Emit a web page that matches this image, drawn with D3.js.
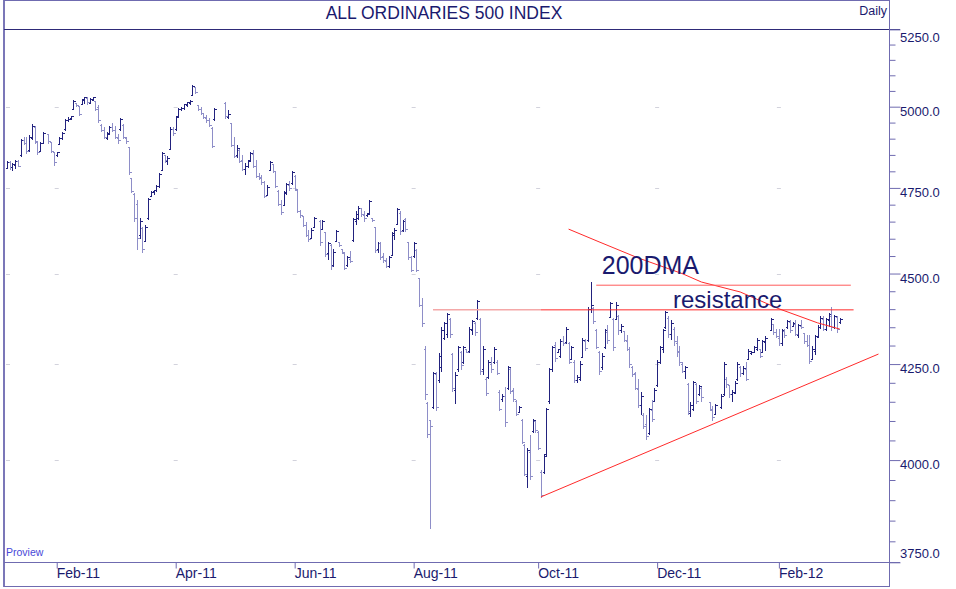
<!DOCTYPE html>
<html>
<head>
<meta charset="utf-8">
<script src="https://cdnjs.cloudflare.com/ajax/libs/d3/7.8.5/d3.min.js"></script>
<style>
  body { margin: 0; background: #fff; }
  svg { display: block; font-family: Arial, "Liberation Sans", sans-serif; }
</style>
</head>
<body>
<svg id="chart" width="956" height="589"></svg>
<script>
// calendar: bars sit on weekday slots, exchange holidays leave a gap
const firstDay = "2011-01-06";
const lastDay = "2012-04-06";
const holidays = ["2011-01-26", "2011-04-22", "2011-04-25", "2011-04-26", "2011-06-13",
                  "2011-12-26", "2011-12-27", "2012-01-02", "2012-01-26"];

// daily OHLC, one line per month (Jan-11 ... Feb/Mar-12)
const highs = [
  4832,4830,4826,4835,4834,4900,4906,4904,4912,4945,4940,4892,4890,4920,4916,4890,4860,
  4860,4905,4920,4960,4966,4972,5020,5012,5000,5025,5030,5030,5026,5032,5018,5005,4945,4935,4920,4940,
  4950,4940,4915,4965,4945,4905,4875,4780,4735,4715,4660,4635,4640,4720,4740,4745,4760,4795,4860,4850,4848,4935,4935,
  4970,4995,5000,5010,5015,5020,5070,5062,5005,5000,4980,4975,4965,4935,4995,5015,4990,4950,
  4905,4880,4868,4850,4825,4835,4860,4865,4835,4795,4790,4770,4760,4830,4822,4800,4745,4715,4740,4765,4770,4800,
  4790,4745,4685,4665,4650,4625,4630,4665,4655,4655,4620,4590,4585,4570,4625,4590,4570,4560,4550,4565,4660,
  4680,4695,4690,4680,4675,4715,4660,4635,4590,4590,4560,4545,4550,4620,4630,4690,4680,4655,4660,4590,4550,
  4590,4570,4487,4430,4300,4150,4100,4230,4230,4280,4350,4365,4390,4375,4280,4230,4300,4285,4300,4290,4350,4370,4365,
  4425,4375,4300,4215,4260,4270,4295,4260,4180,4170,4190,4245,4240,4185,4155,4140,4105,4040,4030,4065,4105,4100,
  4075,3975,4015,4135,4240,4300,4310,4290,4318,4325,4350,4310,4300,4260,4220,4258,4320,4318,4405,4475,4405,
  4345,4285,4280,4345,4355,4420,4375,4420,4385,4360,4340,4330,4295,4245,4230,4210,4175,4120,4115,4135,4155,4185,
  4260,4300,4345,4395,4380,4370,4350,4325,4300,4255,4245,4200,4150,4205,4200,4195,4190,4150,4140,4145,
  4170,4255,4215,4195,4180,4205,4255,4245,4245,4255,4290,4285,4300,4320,4290,4315,4325,4375,4360,4345,
  4345,4345,4345,4370,4370,4365,4370,4360,4370,4335,4330,4330,4300,4330,4355,4380,4380,4375,4390,4405,4385,4380,4375
];
const lows = [
  4806,4805,4800,4808,4812,4845,4880,4852,4860,4895,4882,4850,4860,4885,4882,4855,4815,
  4845,4880,4895,4925,4952,4958,4990,4998,4970,5005,5010,5005,5008,5018,4985,4950,4920,4900,4895,4910,
  4920,4900,4885,4925,4900,4885,4790,4735,4650,4568,4600,4560,4590,4655,4722,4730,4738,4750,4800,4825,4820,4865,4908,
  4925,4965,4985,4990,5000,5005,5035,5040,4985,4975,4960,4950,4935,4870,4955,4960,4960,4875,
  4840,4840,4825,4800,4790,4810,4830,4810,4780,4775,4760,4720,4725,4800,4795,4750,4695,4670,4695,4730,4740,4760,
  4740,4675,4662,4635,4605,4590,4600,4630,4580,4625,4548,4540,4510,4520,4590,4575,4555,4510,4520,4530,4590,
  4640,4655,4665,4650,4665,4670,4650,4560,4560,4540,4530,4515,4515,4550,4595,4640,4610,4620,4620,4540,4505,
  4545,4505,4405,4350,4155,4055,3830,4130,4125,4200,4230,4315,4320,4320,4175,4145,4230,4235,4250,4280,4280,4330,4325,
  4370,4220,4220,4165,4210,4225,4250,4220,4125,4150,4085,4180,4170,4150,4112,4120,4040,3960,3930,3950,4070,4070,
  4025,3905,3965,4010,4145,4230,4255,4280,4265,4300,4305,4250,4260,4200,4200,4205,4265,4285,4310,4390,4360,
  4290,4220,4235,4290,4305,4375,4285,4370,4330,4335,4310,4285,4240,4215,4180,4135,4115,4080,4050,4065,4098,4150,
  4190,4250,4280,4345,4320,4315,4300,4270,4245,4225,4210,4115,4110,4125,4145,4165,4150,4125,4100,4115,
  4130,4165,4185,4160,4150,4170,4205,4215,4220,4205,4260,4275,4280,4285,4265,4280,4285,4340,4330,4320,
  4300,4300,4320,4345,4335,4350,4325,4320,4345,4305,4295,4250,4260,4275,4320,4345,4340,4340,4350,4340,4345,4335,4360
];
const opens = [
  4810,4826,4812,4818,4830,4848,4895,4886,4864,4902,4936,4888,4862,4886,4912,4888,4858,
  4848,4882,4900,4928,4956,4962,4992,5010,5000,5008,5018,5026,5010,5020,5016,4998,4942,4925,4900,4912,
  4935,4925,4902,4928,4942,4902,4872,4778,4730,4700,4610,4630,4592,4660,4725,4738,4742,4755,4802,4848,4830,4868,4930,
  4928,4968,4990,4995,5004,5010,5036,5060,5004,4990,4978,4962,4955,4932,4960,5010,4965,4948,
  4880,4848,4865,4832,4805,4815,4832,4852,4815,4785,4778,4765,4728,4802,4820,4798,4740,4700,4698,4732,4758,4762,
  4785,4742,4680,4664,4640,4610,4602,4632,4650,4628,4618,4556,4580,4522,4592,4588,4568,4556,4522,4540,4595,
  4650,4660,4688,4668,4668,4675,4658,4632,4568,4585,4548,4535,4520,4552,4610,4642,4675,4624,4655,4588,4545,
  4548,4565,4485,4410,4290,4145,4100,4135,4222,4205,4240,4320,4330,4372,4275,4180,4235,4280,4255,4288,4285,4340,4360,
  4375,4370,4235,4210,4215,4250,4255,4255,4175,4155,4165,4185,4235,4180,4150,4122,4100,4038,3960,4020,4072,4098,
  4070,3970,3968,4015,4150,4235,4300,4282,4270,4310,4308,4305,4262,4255,4205,4210,4268,4312,4315,4400,4402,
  4340,4280,4240,4295,4335,4378,4370,4372,4380,4340,4338,4312,4288,4240,4225,4182,4140,4115,4090,4068,4128,4152,
  4192,4255,4290,4350,4375,4330,4345,4305,4285,4250,4230,4195,4120,4130,4195,4168,4185,4148,4128,4118,
  4135,4168,4210,4192,4168,4172,4208,4242,4225,4235,4262,4278,4282,4290,4288,4282,4308,4342,4358,4335,
  4320,4305,4338,4348,4362,4352,4358,4328,4352,4332,4310,4300,4262,4285,4322,4350,4372,4345,4368,4380,4350,4378,4362
];
const closes = [
  4828,4812,4820,4830,4816,4895,4886,4860,4905,4938,4890,4858,4884,4915,4890,4862,4828,
  4856,4902,4916,4955,4960,4968,5016,5004,4975,5022,5028,5012,5022,5028,4990,4955,4926,4905,4915,4935,
  4925,4905,4895,4960,4905,4890,4795,4740,4660,4600,4650,4570,4632,4715,4735,4742,4755,4790,4855,4832,4840,4930,4915,
  4965,4990,4995,5006,5012,5016,5065,5045,4990,4980,4965,4955,4940,4875,4992,4968,4975,4880,
  4845,4870,4830,4805,4815,4830,4855,4815,4785,4780,4765,4725,4752,4828,4800,4755,4700,4676,4735,4760,4748,4795,
  4745,4680,4668,4640,4610,4598,4625,4660,4590,4650,4555,4585,4520,4560,4620,4580,4560,4515,4545,4535,4655,
  4672,4690,4670,4660,4672,4710,4652,4565,4585,4545,4538,4520,4545,4615,4625,4685,4620,4650,4628,4545,4510,
  4585,4510,4410,4360,4170,4065,4085,4225,4135,4270,4340,4360,4385,4330,4185,4220,4295,4245,4295,4282,4345,4365,4335,
  4420,4230,4290,4172,4255,4235,4290,4225,4130,4165,4095,4240,4178,4155,4118,4135,4045,3965,4025,3960,4100,4075,
  4030,3912,4010,4130,4235,4295,4265,4288,4312,4305,4345,4255,4295,4205,4215,4250,4315,4292,4398,4410,4365,
  4295,4230,4270,4340,4315,4415,4295,4410,4340,4352,4315,4290,4248,4222,4185,4140,4165,4085,4060,4130,4105,4180,
  4255,4295,4340,4390,4330,4360,4310,4280,4255,4230,4240,4125,4140,4200,4150,4190,4160,4130,4108,4140,
  4165,4250,4195,4170,4175,4198,4250,4225,4238,4210,4285,4282,4295,4315,4270,4310,4320,4370,4335,4325,
  4305,4340,4328,4365,4340,4360,4330,4355,4348,4310,4300,4258,4290,4325,4350,4375,4345,4370,4385,4348,4380,4345,4370
];

// axes
const priceTicks = [3750, 4000, 4250, 4500, 4750, 5000, 5250];
const monthTicks = ["2011-02-01", "2011-04-01", "2011-06-01", "2011-08-01", "2011-10-03", "2011-12-01", "2012-02-01"];
const monthLabels = ["Feb-11", "Apr-11", "Jun-11", "Aug-11", "Oct-11", "Dec-11", "Feb-12"];

// drawn-in lines
const dmaDates = ["2011-10-18", "2011-11-02", "2011-11-22", "2011-12-14", "2011-12-23", "2012-01-12", "2012-02-01", "2012-02-21", "2012-03-02"];
const dmaValues = [4628, 4591, 4545, 4500, 4476, 4448, 4401, 4362, 4345];
const supportDates = ["2011-10-04", "2012-03-22"];
const supportValues = [3908, 4277];
const resistLevel = 4398;
const dmaLevel = 4467;

const svg = d3.select("#chart");
const parse = d3.timeParse("%Y-%m-%d");
const fmt = d3.timeFormat("%Y-%m-%d");

const weekdays = d3.timeDay.range(parse(firstDay), parse(lastDay))
  .filter(d => d.getDay() !== 0 && d.getDay() !== 6);
const slot = new Map(weekdays.map((d, i) => [fmt(d), i]));
const tradingDays = weekdays.filter(d => !holidays.includes(fmt(d))).slice(0, closes.length);

const x = d3.scaleLinear().domain([-1.05, 318.8]).range([4, 889]);
const xd = s => x(slot.get(s));
const y = d3.scaleLog().domain([3750, 5250]).range([562.3, 29.4]);

const frame = "#6f6bb0";
const ink = "#1a1a6e";

// faint grid marks at the label crossings
const gridX = [8].concat(monthTicks.map(xd));
priceTicks.slice(1, -1).forEach(v => {
  gridX.forEach(gx => {
    svg.append("line")
      .attr("x1", gx - 2).attr("x2", gx + 2)
      .attr("y1", Math.round(y(v)) + 0.5).attr("y2", Math.round(y(v)) + 0.5)
      .attr("stroke", "#d2d2dc");
  });
});

// frame
svg.append("line").attr("x1", 4).attr("x2", 4).attr("y1", 0).attr("y2", 587)
  .attr("stroke", "#7b77b8").attr("stroke-width", 2);
svg.append("line").attr("x1", 4).attr("x2", 889).attr("y1", 0.5).attr("y2", 0.5).attr("stroke", frame);
svg.append("line").attr("x1", 4).attr("x2", 900).attr("y1", 29.5).attr("y2", 29.5).attr("stroke", "#2e2a78");
svg.append("line").attr("x1", 889.5).attr("x2", 889.5).attr("y1", 0).attr("y2", 587).attr("stroke", frame);
svg.append("line").attr("x1", 4).attr("x2", 900).attr("y1", 562.5).attr("y2", 562.5).attr("stroke", frame);
svg.append("line").attr("x1", 4).attr("x2", 889).attr("y1", 586.5).attr("y2", 586.5).attr("stroke", frame);

// y axis: minor ticks every 50, major every 250
const minorTicks = d3.range(3800, 5250, 50).filter(v => v % 250 !== 0);
svg.append("g")
  .attr("transform", "translate(889.5,0)")
  .call(d3.axisRight(y).tickValues(minorTicks).tickSize(6).tickFormat(""))
  .call(g => g.select(".domain").remove())
  .call(g => g.selectAll("line").attr("stroke", frame));
svg.append("g")
  .attr("transform", "translate(889.5,0)")
  .call(d3.axisRight(y).tickValues(priceTicks).tickSize(11).tickFormat(""))
  .call(g => g.select(".domain").remove())
  .call(g => g.selectAll("line").attr("stroke", frame));

svg.selectAll(".ylab")
  .data(priceTicks)
  .enter()
  .append("text")
  .attr("class", "ylab")
  .attr("x", 900)
  .attr("y", d => d === 5250 ? y(d) + 13 : d === 3750 ? y(d) - 4 : y(d) + 9)
  .attr("font-size", 13)
  .attr("fill", ink)
  .text(d => d3.format(".1f")(d));

// x axis
svg.append("g")
  .attr("transform", "translate(0,562.5)")
  .call(d3.axisBottom(x).tickValues(monthTicks.map(s => slot.get(s))).tickSize(6).tickFormat(""))
  .call(g => g.select(".domain").remove())
  .call(g => g.selectAll("line").attr("stroke", frame));

svg.selectAll(".xlab")
  .data(monthTicks)
  .enter()
  .append("text")
  .attr("class", "xlab")
  .attr("x", d => xd(d))
  .attr("y", 578)
  .attr("font-size", 14)
  .attr("fill", ink)
  .text((d, i) => monthLabels[i]);

// titles
svg.append("text").attr("x", 444).attr("y", 19).attr("text-anchor", "middle")
  .attr("font-size", 17.5).attr("fill", ink).text("ALL ORDINARIES 500 INDEX");
svg.append("text").attr("x", 887).attr("y", 15).attr("text-anchor", "end")
  .attr("font-size", 12.5).attr("fill", ink).text("Daily");
svg.append("text").attr("x", 6).attr("y", 556)
  .attr("font-size", 10.5).attr("fill", "#4848d8").text("Proview");

// OHLC bars
const bars = tradingDays.map((d, i) => ({
  slot: slot.get(fmt(d)), o: opens[i], h: highs[i], l: lows[i], c: closes[i]
}));
svg.append("g")
  .attr("shape-rendering", "crispEdges")
  .selectAll("path")
  .data(bars)
  .enter()
  .append("path")
  .attr("d", b => {
    const bx = Math.round(x(b.slot)) + 0.5;
    return `M${bx},${y(b.h)}V${y(b.l)}M${bx - 2},${y(b.o)}H${bx}M${bx},${y(b.c)}H${bx + 2}`;
  })
  .attr("fill", "none")
  .attr("stroke", b => b.c >= b.o ? "#22227e" : "#8e8ec8")
  .attr("stroke-width", 1);

// drawn lines
const line = d3.line().x(p => xd(p[0])).y(p => y(p[1]));
svg.append("path")
  .attr("d", line(dmaDates.map((d, i) => [d, dmaValues[i]])))
  .attr("fill", "none").attr("stroke", "#ff2a2a").attr("stroke-width", 1);
svg.append("path")
  .attr("d", line(supportDates.map((d, i) => [d, supportValues[i]])))
  .attr("fill", "none").attr("stroke", "#ff2a2a").attr("stroke-width", 1);
svg.append("path")
  .attr("d", line([["2011-08-10", resistLevel], ["2011-10-04", resistLevel]]))
  .attr("fill", "none").attr("stroke", "#f4a8a8").attr("stroke-width", 1.5);
svg.append("path")
  .attr("d", line([["2011-10-04", resistLevel], ["2012-03-09", resistLevel]]))
  .attr("fill", "none").attr("stroke", "#ff2a2a").attr("stroke-width", 1);
svg.append("path")
  .attr("d", line([["2011-11-01", dmaLevel], ["2012-03-08", dmaLevel]]))
  .attr("fill", "none").attr("stroke", "#ff5a5a").attr("stroke-width", 1);

// labels on the chart
svg.append("text").attr("x", xd("2011-11-03")).attr("y", y(4498))
  .attr("font-size", 25).attr("fill", ink).text("200DMA");
svg.append("text").attr("x", xd("2011-12-08") + 2).attr("y", y(4403))
  .attr("font-size", 24).attr("fill", ink).text("resistance");
</script>
</body>
</html>
